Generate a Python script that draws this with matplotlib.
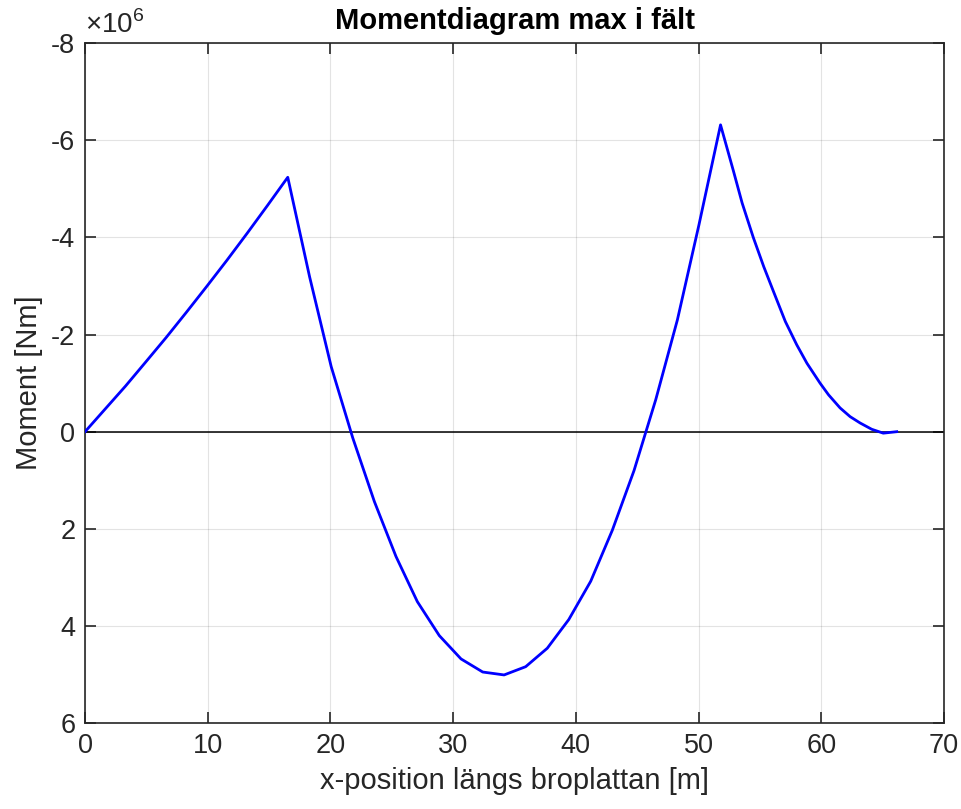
"""Moment diagram (max in span) along the bridge deck."""

import matplotlib

matplotlib.use("Agg")
import matplotlib.pyplot as plt

plt.rcParams["font.family"] = ["Liberation Sans", "DejaVu Sans"]
plt.rcParams["axes.unicode_minus"] = False
plt.rcParams["mathtext.fontset"] = "custom"
plt.rcParams["mathtext.rm"] = "Liberation Sans"

# position along the deck [m]
x_pos = [
    0.0, 1.65, 3.30, 4.96, 6.61, 8.26, 9.91, 11.56, 13.22, 14.87, 16.52,
    18.30, 20.06, 21.82, 23.58, 25.34, 27.08, 28.87, 30.64, 32.41, 34.15,
    35.91, 37.67, 39.42, 41.21, 42.97, 44.74, 46.51, 48.27, 50.03, 51.79,
    52.84, 53.55, 54.46, 55.31, 56.10, 57.07, 58.00, 58.83, 59.90, 60.59,
    61.53, 62.35, 63.16, 64.11, 65.05, 66.15,
]
# moment [x 1e6 Nm]
moment = [
    0.0, -0.47, -0.94, -1.44, -1.94, -2.46, -2.99, -3.53, -4.09, -4.66, -5.24,
    -3.19, -1.34, 0.13, 1.44, 2.57, 3.50, 4.20, 4.68, 4.95, 5.01,
    4.84, 4.46, 3.87, 3.08, 2.03, 0.80, -0.66, -2.30, -4.26, -6.32,
    -5.37, -4.71, -4.00, -3.40, -2.89, -2.27, -1.79, -1.41, -1.00, -0.76,
    -0.49, -0.31, -0.18, -0.05, 0.03, 0.0,
]

x_ticks = [0, 10, 20, 30, 40, 50, 60, 70]
y_ticks = [-8, -6, -4, -2, 0, 2, 4, 6]

axis_color = "#262626"

fig = plt.figure(figsize=(9.61, 8.09), dpi=100)
ax = fig.add_axes([0.0885, 0.1063, 0.8938, 0.8402])

ax.plot(x_pos, moment, color=(0, 0, 1), linewidth=2, zorder=3)
ax.axhline(0, color="black", linewidth=1.1, zorder=2)

ax.set_xlim(0, 70)
ax.set_ylim(6, -8)
ax.set_xticks(x_ticks)
ax.set_yticks(y_ticks)
ax.grid(True, color="black", alpha=0.11, linewidth=0.8)

for side in ax.spines.values():
    side.set_color(axis_color)
    side.set_linewidth(1.2)
ax.tick_params(direction="in", length=8, width=1.2, colors=axis_color,
               labelsize=19.5, top=True, right=True, pad=7)
for lbl in ax.get_xticklabels() + ax.get_yticklabels():
    lbl.set_color(axis_color)

ax.set_xlabel("x-position längs broplattan [m]", fontsize=21, color=axis_color,
              labelpad=6)
ax.set_ylabel("Moment [Nm]", fontsize=21, color=axis_color, labelpad=6)
ax.set_title("Momentdiagram max i fält", fontsize=21, fontweight="bold", pad=10)
ax.text(0.0, 1.006, r"$\times10^{6}$", transform=ax.transAxes, fontsize=20,
        color=axis_color, ha="left", va="bottom")

fig.savefig("out.png", dpi=100)
